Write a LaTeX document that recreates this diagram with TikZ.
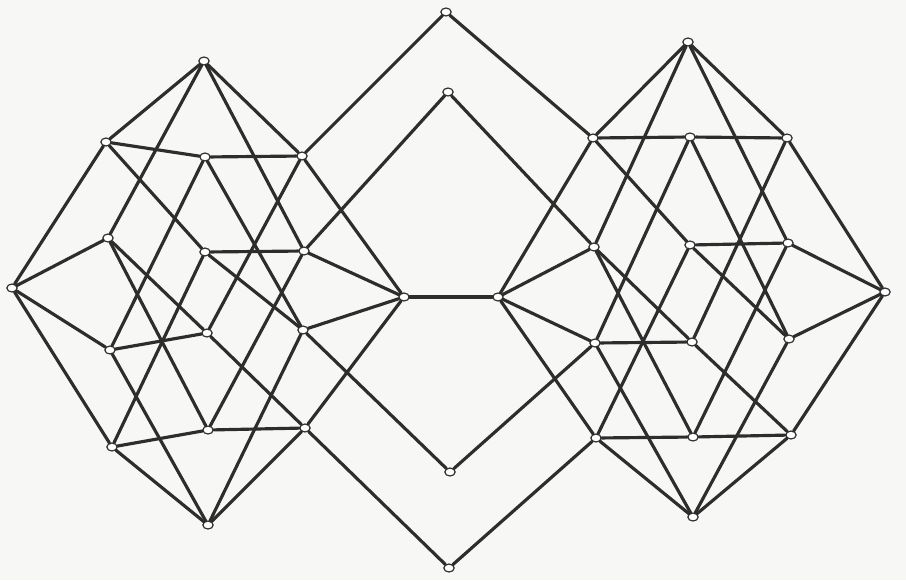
\documentclass[tikz,border=0pt]{standalone}
\usepackage{xcolor}
\usepackage{tikz}
\usetikzlibrary{shapes.geometric}

\definecolor{paper}{RGB}{247,247,245}
\definecolor{ink}{RGB}{45,45,45}

\begin{document}
\begin{tikzpicture}[
    x=0.03cm, y=-0.03cm,
    latpoint/.style={ellipse, draw=ink, fill=white, line width=1pt, inner sep=0pt, minimum width=0.31cm, minimum height=0.24cm},
    latedge/.style={draw=ink, line width=2.7pt, line cap=round}
]
\fill[paper] (0,0) rectangle (906,580);
\useasboundingbox (0,0) rectangle (906,580);

% left block
\node[latpoint] (lT) at (204,61) {};
\node[latpoint] (lA1) at (106,142) {};
\node[latpoint] (lA2) at (205,157) {};
\node[latpoint] (lA3) at (302,156) {};
\node[latpoint] (lB1) at (108,238) {};
\node[latpoint] (lB2) at (205,252) {};
\node[latpoint] (lB3) at (304,251) {};
\node[latpoint] (lW) at (12,288) {};
\node[latpoint] (lE) at (404,297) {};
\node[latpoint] (lC1) at (110,350) {};
\node[latpoint] (lC2) at (207,333) {};
\node[latpoint] (lC3) at (303,330) {};
\node[latpoint] (lD1) at (112,447) {};
\node[latpoint] (lD2) at (208,430) {};
\node[latpoint] (lD3) at (305,428) {};
\node[latpoint] (lBot) at (208,525) {};

% right block
\node[latpoint] (rT) at (688,42) {};
\node[latpoint] (rA1) at (593,138) {};
\node[latpoint] (rA2) at (690,137) {};
\node[latpoint] (rA3) at (787,138) {};
\node[latpoint] (rB1) at (594,247) {};
\node[latpoint] (rB2) at (690,245) {};
\node[latpoint] (rB3) at (788,243) {};
\node[latpoint] (rW) at (498,297) {};
\node[latpoint] (rE) at (885,292) {};
\node[latpoint] (rC1) at (595,343) {};
\node[latpoint] (rC2) at (692,342) {};
\node[latpoint] (rC3) at (789,339) {};
\node[latpoint] (rD1) at (596,438) {};
\node[latpoint] (rD2) at (693,437) {};
\node[latpoint] (rD3) at (791,435) {};
\node[latpoint] (rBot) at (693,517) {};

% middle chains
\node[latpoint] (mT) at (446,12) {};
\node[latpoint] (mU) at (448,92) {};
\node[latpoint] (mL) at (450,472) {};
\node[latpoint] (mB) at (449,568) {};

% both blocks have the same edges
\foreach \s in {l,r} {
  \foreach \a/\b in {T/A1, T/A3, T/B1, T/B3,
                     W/A1, W/B1, W/C1, W/D1,
                     E/A3, E/B3, E/C3, E/D3,
                     Bot/C1, Bot/C3, Bot/D1, Bot/D3,
                     A2/A1, A2/A3, A2/C1, A2/C3,
                     B2/A1, B2/B3, B2/D1, B2/C3,
                     C2/A3, C2/C1, C2/B1, C2/D3,
                     D2/B3, D2/B1, D2/D1, D2/D3}
    \draw[latedge] (\s\a) -- (\s\b);
}

\draw[latedge] (lA3) -- (mT) -- (rA1);
\draw[latedge] (lB3) -- (mU) -- (rB1);
\draw[latedge] (lE) -- (rW);
\draw[latedge] (lC3) -- (mL) -- (rC1);
\draw[latedge] (lD3) -- (mB) -- (rD1);
\end{tikzpicture}
\end{document}
